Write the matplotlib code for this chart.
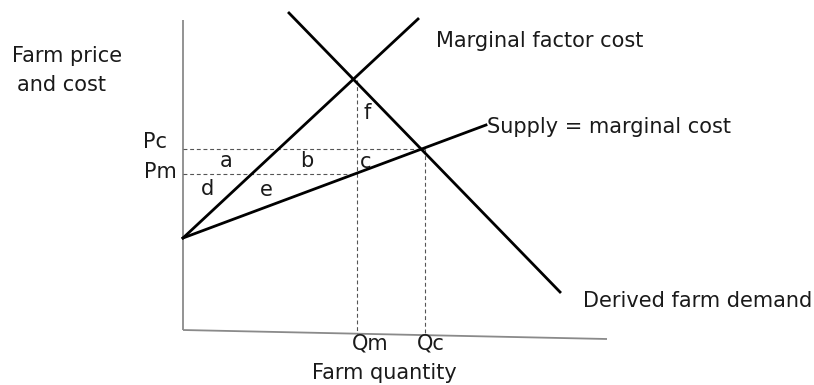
import matplotlib
matplotlib.use('Agg')
import matplotlib.pyplot as plt

# ── Diagram data (units: quantity / price, origin at the axes corner) ──
SUPPLY_Q = [0.0, 30.3]
SUPPLY_P = [9.2, 20.5]
MFC_Q = [0.0, 23.5]
MFC_P = [9.2, 31.1]
DEMAND_Q = [10.6, 37.7]
DEMAND_P = [31.7, 3.8]

QM, QC = 17.4, 24.2
PM, PC = 15.6, 18.1
P_MONO = 25.0          # MFC = demand at Qm

AXIS_X_Q = [0.0, 42.4]
AXIS_X_P = [0.0, -0.9]  # the drawn quantity axis slopes a little
AXIS_Y_TOP = 31.0

AREA_LABELS = ["a", "b", "c", "d", "e", "f"]
AREA_Q = [4.3, 12.4, 18.3, 2.4, 8.3, 18.4]
AREA_P = [16.9, 16.9, 16.8, 14.1, 14.0, 21.7]

FS = 15

fig = plt.figure(figsize=(8.14, 3.85), dpi=100)
ax = fig.add_axes([0, 0, 1, 1])
ax.set_xlim(-18.3, 63.1)
ax.set_ylim(-5.5, 33.0)
ax.axis('off')

# axes
ax.plot([0, 0], [AXIS_X_P[0], AXIS_Y_TOP], color='#8a8a8a', lw=1.3, solid_capstyle='butt')
ax.plot(AXIS_X_Q, AXIS_X_P, color='#8a8a8a', lw=1.3, solid_capstyle='butt')

# dashed guides
dash = dict(color='#555555', lw=0.8, linestyle=(0, (3.5, 2.5)))
ax.plot([0, QC], [PC, PC], **dash)
ax.plot([0, QM], [PM, PM], **dash)
ax.plot([QM, QM], [P_MONO, -0.4], **dash)
ax.plot([QC, QC], [PC, -0.5], **dash)

# curves
ax.plot(MFC_Q, MFC_P, color='black', lw=2.0)
ax.plot(SUPPLY_Q, SUPPLY_P, color='black', lw=2.0)
ax.plot(DEMAND_Q, DEMAND_P, color='black', lw=2.0)

txt = dict(fontsize=FS, color='#1a1a1a', va='baseline')
ax.text(-17.1, 26.8, "Farm price", **txt)
ax.text(-16.6, 23.9, "and cost", **txt)
ax.text(-4.0, 18.2, "Pc", **txt)
ax.text(-3.9, 15.2, "Pm", **txt)
ax.text(25.3, 28.3, "Marginal factor cost", **txt)
ax.text(30.4, 19.7, "Supply = marginal cost", **txt)
ax.text(40.0, 2.3, "Derived farm demand", **txt)
ax.text(16.9, -2.0, "Qm", **txt)
ax.text(23.4, -2.0, "Qc", **txt)
ax.text(12.9, -4.9, "Farm quantity", **txt)

for lab, q, p in zip(AREA_LABELS, AREA_Q, AREA_P):
    ax.text(q, p, lab, fontsize=FS, color='#1a1a1a', ha='center', va='center')

fig.savefig("out.png", dpi=100)
plt.close(fig)
